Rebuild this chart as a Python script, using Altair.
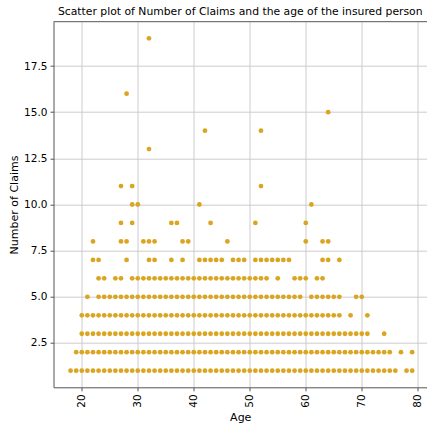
import altair as alt
import pandas as pd

# Ages observed for each number of claims
ages_1 = [18, 19, 20, 21, 22, 23, 24, 25, 26, 27, 28, 29, 30, 31, 32, 33, 34, 35, 36, 37,
          38, 39, 40, 41, 42, 43, 44, 45, 46, 47, 48, 49, 50, 51, 52, 53, 54, 55, 56, 57,
          58, 59, 60, 61, 62, 63, 64, 65, 66, 67, 68, 69, 70, 71, 72, 73, 74, 75, 76, 78, 79]
ages_2 = [19, 20, 21, 22, 23, 24, 25, 26, 27, 28, 29, 30, 31, 32, 33, 34, 35, 36, 37, 38,
          39, 40, 41, 42, 43, 44, 45, 46, 47, 48, 49, 50, 51, 52, 53, 54, 55, 56, 57, 58,
          59, 60, 61, 62, 63, 64, 65, 66, 67, 68, 69, 70, 71, 72, 73, 74, 75, 77, 79]
ages_3 = [20, 21, 22, 23, 24, 25, 26, 27, 28, 29, 30, 31, 32, 33, 34, 35, 36, 37, 38, 39,
          40, 41, 42, 43, 44, 45, 46, 47, 48, 49, 50, 51, 52, 53, 54, 55, 56, 57, 58, 59,
          60, 61, 62, 63, 64, 65, 66, 67, 68, 69, 70, 71, 74]
ages_4 = [20, 21, 22, 23, 24, 25, 26, 27, 28, 29, 30, 31, 32, 33, 34, 35, 36, 37, 38, 39,
          40, 41, 42, 43, 44, 45, 46, 47, 48, 49, 50, 51, 52, 53, 54, 55, 56, 57, 58, 59,
          60, 61, 62, 63, 64, 65, 66, 68, 71]
ages_5 = [21, 23, 24, 25, 26, 27, 28, 29, 30, 31, 32, 33, 34, 35, 36, 37, 38, 39, 40, 41,
          42, 43, 44, 45, 46, 47, 48, 49, 50, 51, 52, 53, 54, 55, 56, 57, 58, 59, 61, 62,
          63, 64, 65, 66, 69, 70]
ages_6 = [23, 24, 26, 27, 29, 30, 31, 32, 33, 34, 35, 36, 37, 38, 39, 40, 41, 42, 43, 44,
          45, 46, 47, 48, 49, 50, 51, 52, 53, 55, 58, 59, 60, 62, 63]
ages_7 = [22, 23, 28, 32, 33, 36, 38, 41, 42, 43, 44, 45, 47, 48, 49, 51, 52, 53, 54, 55,
          56, 57, 63, 64, 66]
ages_8 = [22, 27, 28, 31, 32, 33, 38, 39, 46, 60, 63, 64]
ages_9 = [27, 29, 36, 37, 43, 51, 60]
ages_10 = [29, 30, 41, 61]
ages_11 = [27, 29, 52]
ages_13 = [32]
ages_14 = [42, 52]
ages_15 = [64]
ages_16 = [28]
ages_19 = [32]

claims_groups = [
    (1, ages_1), (2, ages_2), (3, ages_3), (4, ages_4), (5, ages_5), (6, ages_6),
    (7, ages_7), (8, ages_8), (9, ages_9), (10, ages_10), (11, ages_11), (13, ages_13),
    (14, ages_14), (15, ages_15), (16, ages_16), (19, ages_19),
]

x_ticks = [20, 30, 40, 50, 60, 70, 80]
y_ticks = [2.5, 5.0, 7.5, 10.0, 12.5, 15.0, 17.5]

df = pd.DataFrame(
    [{"Age": a, "Claims": c} for c, ages in claims_groups for a in ages]
)

W, H = 373.5, 365.6
FONT = "DejaVu Sans"

points = alt.Chart(df).mark_circle(size=23, color="#DAA520", opacity=1).encode(
    x=alt.X(
        "Age:Q",
        scale=alt.Scale(domain=[14.95, 81.65], nice=False, zero=False),
        axis=alt.Axis(values=x_ticks, labelAngle=270, title="Age", format="d"),
    ),
    y=alt.Y(
        "Claims:Q",
        scale=alt.Scale(domain=[0.1, 19.9], nice=False, zero=False),
        axis=alt.Axis(values=y_ticks, format=".1f", title="Number of Claims"),
    ),
)

# top spine
top_line = alt.Chart(pd.DataFrame({"k": [0]})).mark_rule(
    color="#555555", strokeWidth=1
).encode(x=alt.value(0), x2=alt.value(W), y=alt.value(0))

chart = (
    alt.layer(points, top_line)
    .properties(
        width=W,
        height=H,
        autosize=alt.AutoSizeParams(type="none"),
        padding={"left": 53.5, "top": 21.7, "right": 0, "bottom": 35.7},
        title=alt.TitleParams(
            "Scatter plot of Number of Claims and the age of the insured person",
            font=FONT, fontSize=10.8, fontWeight="normal", color="#000000",
            anchor="middle", offset=4,
        ),
    )
    .configure_view(stroke=None)
    .configure_axis(
        labelFont=FONT, titleFont=FONT, labelFontSize=10.5, titleFontSize=11,
        titleFontWeight="normal", labelColor="#000000", titleColor="#000000",
        domainColor="#555555", tickColor="#555555", tickSize=3.5,
        gridColor="#cccccc", gridWidth=1, labelPadding=3, titlePadding=4,
    )
)

chart.save("out.html", embed_options={"renderer": "svg", "actions": False})
